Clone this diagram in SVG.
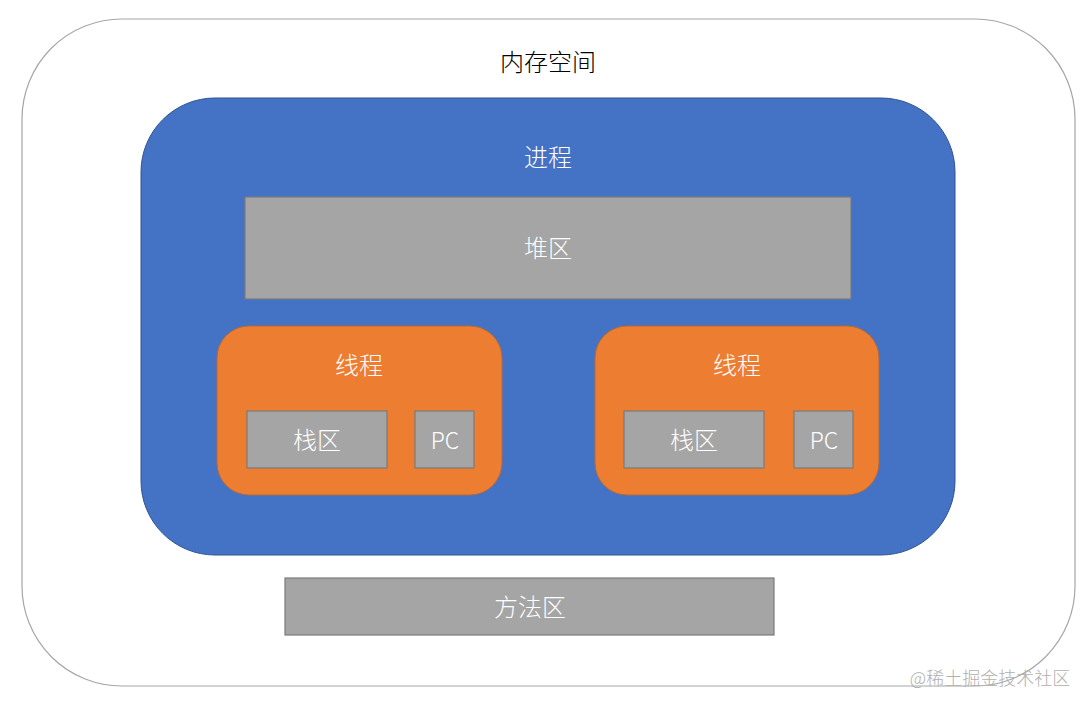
<svg xmlns="http://www.w3.org/2000/svg" width="1091" height="709" viewBox="0 0 1091 709">
<style>
text{font-family:"Noto Sans CJK SC","Noto Sans",sans-serif;font-weight:300;text-anchor:middle;dominant-baseline:central;font-size:24px;fill:#ffffff}
.gray{fill:#a5a5a5;stroke:#7b7b7b;stroke-width:1.2}
.thread{fill:#ed7d31;stroke:#b46a3a;stroke-width:1}
</style>
<rect width="1091" height="709" fill="#ffffff"/>
<g id="memory">
<rect x="22" y="19" width="1053" height="667" rx="100" ry="100" fill="#ffffff" stroke="#a6a6a6" stroke-width="1.2"/>
<text x="548" y="60" style="fill:#000000">内存空间</text>
</g>
<g id="process">
<rect x="141" y="98" width="814" height="457" rx="74" ry="74" fill="#4472c4" stroke="#2f528f" stroke-width="1"/>
<text x="548" y="155">进程</text>
</g>
<g id="heap">
<rect class="gray" x="245" y="197" width="606" height="102"/>
<text x="548" y="246">堆区</text>
</g>
<g id="thread1">
<rect class="thread" x="217" y="326" width="285" height="169" rx="32" ry="32"/>
<text x="359" y="363">线程</text>
</g>
<g id="stack1">
<rect class="gray" x="247" y="411" width="140" height="57"/>
<text x="317" y="438">栈区</text>
</g>
<g id="pc1">
<rect class="gray" x="415" y="411" width="59" height="57"/>
<text x="445" y="439" style="font-size:23px">PC</text>
</g>
<g id="thread2">
<rect class="thread" x="595" y="326" width="284" height="169" rx="32" ry="32"/>
<text x="737" y="363">线程</text>
</g>
<g id="stack2">
<rect class="gray" x="624" y="411" width="140" height="57"/>
<text x="694" y="438">栈区</text>
</g>
<g id="pc2">
<rect class="gray" x="794" y="411" width="59" height="57"/>
<text x="824" y="439" style="font-size:23px">PC</text>
</g>
<g id="method">
<rect class="gray" x="285" y="578" width="489" height="57"/>
<text x="530" y="605">方法区</text>
</g>
<g id="connectors"></g>
<text x="990" y="677" style="fill:#b0b0b0;font-size:18px">@稀土掘金技术社区</text>
</svg>
